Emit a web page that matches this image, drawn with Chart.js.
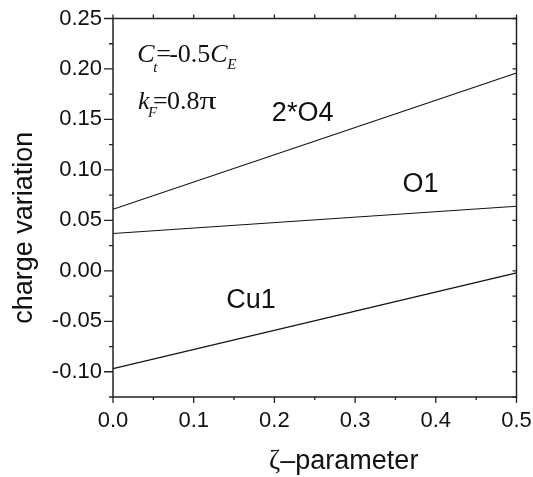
<!DOCTYPE html>
<html><head><meta charset="utf-8">
<script src="https://cdn.jsdelivr.net/npm/chart.js@4"></script>
<style>html,body{margin:0;padding:0;background:#fff}#wrap{width:533px;height:477px;position:relative}</style>
</head><body><div id="wrap"><canvas id="c"></canvas></div>
<script>
// ---- data ----
const zeta = [0.0, 0.5];
const o4 = [0.061, 0.196];
const o1 = [0.037, 0.064];
const cu1 = [-0.097, -0.002];
const xTicks = [0, 0.1, 0.2, 0.3, 0.4, 0.5];
const xMinor = [0.05, 0.15, 0.25, 0.35, 0.45];
const yTicks = [-0.10, -0.05, 0.00, 0.05, 0.10, 0.15, 0.20, 0.25];
const yMinor = [-0.125, -0.075, -0.025, 0.025, 0.075, 0.125, 0.175, 0.225];
const seriesLabels = [
  {text: '2*O4', x: 0.235, y: 0.156},
  {text: 'O1', x: 0.381, y: 0.085},
  {text: 'Cu1', x: 0.171, y: -0.029}
];
const xTitle = ['ζ', '–parameter'];
const yTitle = 'charge variation';

const INK = '#111';
const AX = '#222';
const SANS = '"Liberation Sans", Arial, sans-serif';
const SERIF = '"Liberation Serif", "Times New Roman", serif';

function pts(ys) { return zeta.map((x, i) => ({x: x, y: ys[i]})); }

const decor = {
  id: 'decor',
  afterDatasetsDraw(chart) {
    const {ctx, chartArea: a, scales: {x, y}} = chart;
    ctx.save();
    // frame
    ctx.strokeStyle = AX;
    ctx.lineWidth = 1.5;
    ctx.strokeRect(a.left, a.top, a.right - a.left, a.bottom - a.top);
    ctx.lineWidth = 1.3;
    ctx.beginPath();
    // left ticks (outward)
    yTicks.forEach(v => { const p = y.getPixelForValue(v); ctx.moveTo(a.left, p); ctx.lineTo(a.left - 9, p); });
    yMinor.forEach(v => { const p = y.getPixelForValue(v); ctx.moveTo(a.left, p); ctx.lineTo(a.left - 4, p); });
    // right ticks (inward)
    yTicks.concat(yMinor).forEach(v => { const p = y.getPixelForValue(v); ctx.moveTo(a.right, p); ctx.lineTo(a.right - 4, p); });
    // bottom ticks (outward)
    xTicks.forEach(v => { const p = x.getPixelForValue(v); ctx.moveTo(p, a.bottom); ctx.lineTo(p, a.bottom + 6); });
    xMinor.forEach(v => { const p = x.getPixelForValue(v); ctx.moveTo(p, a.bottom); ctx.lineTo(p, a.bottom + 3); });
    // top ticks (outward)
    xTicks.concat(xMinor).forEach(v => { const p = x.getPixelForValue(v); ctx.moveTo(p, a.top); ctx.lineTo(p, a.top - 4); });
    ctx.stroke();

    // series labels
    ctx.fillStyle = INK;
    ctx.font = '27px ' + SANS;
    ctx.textAlign = 'center';
    ctx.textBaseline = 'middle';
    seriesLabels.forEach(l => ctx.fillText(l.text, x.getPixelForValue(l.x), y.getPixelForValue(l.y)));

    // annotations (Times-like)
    ctx.textAlign = 'left';
    ctx.textBaseline = 'alphabetic';
    const it = 'italic 26px ' + SERIF, rg = '26px ' + SERIF, sub = 'italic 15px ' + SERIF;
    function runs(x0, y0, list) {
      let cx = x0;
      list.forEach(r => {
        ctx.font = r.f;
        if (r.sx) {
          ctx.save();
          ctx.translate(cx, y0 + (r.dy || 0));
          ctx.scale(r.sx, 1);
          ctx.fillText(r.t, 0, 0);
          ctx.restore();
          cx += ctx.measureText(r.t).width * r.sx;
        } else {
          ctx.fillText(r.t, cx, y0 + (r.dy || 0));
          cx += (r.adv !== undefined ? r.adv : ctx.measureText(r.t).width);
        }
      });
    }
    runs(x.getPixelForValue(0.030), y.getPixelForValue(0.207), [
      {t: 'C', f: it, adv: 16}, {t: 't', f: sub, dy: 10, adv: 3},
      {t: '=', f: rg, adv: 13}, {t: '-0.5', f: rg}, {t: 'C', f: it, adv: 17}, {t: 'E', f: sub, dy: 7}
    ]);
    runs(x.getPixelForValue(0.031), y.getPixelForValue(0.160), [
      {t: 'k', f: it, adv: 10}, {t: 'F', f: sub, dy: 8, adv: 5},
      {t: '=', f: rg, adv: 14}, {t: '0.8', f: rg}, {t: 'π', f: '26px ' + SERIF, sx: 1.3}
    ]);

    // axis titles
    ctx.font = '27px ' + SANS;
    ctx.textBaseline = 'middle';
    ctx.textAlign = 'center';
    ctx.save();
    ctx.translate(25, (a.top + a.bottom) / 2 + 20);
    ctx.rotate(-Math.PI / 2);
    ctx.fillText(yTitle, 0, 0);
    ctx.restore();
    // x title: ζ + –parameter
    ctx.textAlign = 'left';
    const f1 = '27px ' + SERIF, f2 = '27px ' + SANS;
    ctx.font = f1; const w1 = ctx.measureText(xTitle[0]).width;
    ctx.font = f2; const w2 = ctx.measureText(xTitle[1]).width;
    const cxm = (a.left + a.right) / 2 + 29;
    let sx = cxm - (w1 + w2) / 2;
    const ty = 462;
    ctx.font = f1; ctx.fillText(xTitle[0], sx, ty);
    ctx.font = f2; ctx.fillText(xTitle[1], sx + w1, ty);
    ctx.restore();
  }
};

const mk = (data) => ({data: pts(data), borderColor: '#111', borderWidth: 1.2, pointRadius: 0, fill: false, tension: 0});

new Chart(document.getElementById('c'), {
  type: 'line',
  data: {datasets: [mk(o4), mk(o1), mk(cu1)]},
  options: {
    responsive: true,
    maintainAspectRatio: false,
    animation: false,
    events: [],
    layout: {padding: {left: 0, right: 16.5, top: 18.5, bottom: 0}},
    plugins: {legend: {display: false}, tooltip: {enabled: false}},
    scales: {
      x: {
        type: 'linear', min: 0, max: 0.5,
        grid: {display: false}, border: {display: false},
        afterBuildTicks: s => { s.ticks = xTicks.map(v => ({value: v})); },
        afterFit: s => { s.height = 80; s.paddingLeft = 0; s.paddingRight = 0; },
        ticks: {color: INK, font: {size: 22, family: SANS}, padding: 3, maxRotation: 0,
          callback: v => v.toFixed(1)}
      },
      y: {
        type: 'linear', min: -0.125, max: 0.25,
        grid: {display: false}, border: {display: false},
        afterBuildTicks: s => { s.ticks = yTicks.map(v => ({value: v})); },
        afterFit: s => { s.width = 113; s.paddingTop = 0; s.paddingBottom = 0; },
        ticks: {color: INK, font: {size: 22, family: SANS}, padding: 3,
          callback: v => v.toFixed(2)}
      }
    }
  },
  plugins: [decor]
});
</script></body></html>
